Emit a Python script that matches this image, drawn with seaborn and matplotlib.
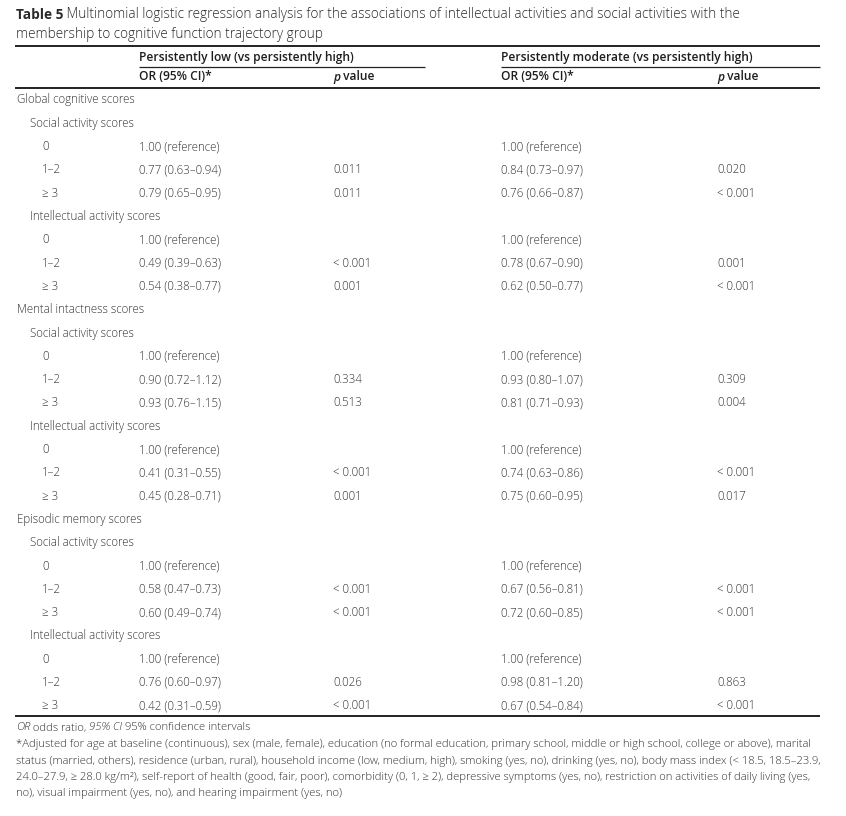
import numpy as np
import pandas as pd
import matplotlib
matplotlib.use("Agg")
import matplotlib.pyplot as plt
import seaborn as sns

# ================================
# DATA
# ================================

title_bold = "Table 5"
title_rest = [" Multinomial logistic regression analysis for the associations of intellectual activities and social activities with the",
              "membership to cognitive function trajectory group"]

group_labels = ["Persistently low (vs persistently high)",
                "Persistently moderate (vs persistently high)"]

sections = ["Global cognitive scores", "Mental intactness scores", "Episodic memory scores"]
subgroups = ["Social activity scores", "Intellectual activity scores"]
levels = ["0", "1\u20132", "\u2265 3"]

# odds ratios and 95% CI for the 1-2 and >=3 levels (0 is reference), in section/subgroup order
low_or = [0.77, 0.79, 0.49, 0.54, 0.90, 0.93, 0.41, 0.45, 0.58, 0.60, 0.76, 0.42]
low_lo = [0.63, 0.65, 0.39, 0.38, 0.72, 0.76, 0.31, 0.28, 0.47, 0.49, 0.60, 0.31]
low_hi = [0.94, 0.95, 0.63, 0.77, 1.12, 1.15, 0.55, 0.71, 0.73, 0.74, 0.97, 0.59]
low_p = ["0.011", "0.011", "< 0.001", "0.001", "0.334", "0.513",
         "< 0.001", "0.001", "< 0.001", "< 0.001", "0.026", "< 0.001"]

mod_or = [0.84, 0.76, 0.78, 0.62, 0.93, 0.81, 0.74, 0.75, 0.67, 0.72, 0.98, 0.67]
mod_lo = [0.73, 0.66, 0.67, 0.50, 0.80, 0.71, 0.63, 0.60, 0.56, 0.60, 0.81, 0.54]
mod_hi = [0.97, 0.87, 0.90, 0.77, 1.07, 0.93, 0.86, 0.95, 0.81, 0.85, 1.20, 0.84]
mod_p = ["0.020", "< 0.001", "0.001", "< 0.001", "0.309", "0.004",
         "< 0.001", "0.017", "< 0.001", "< 0.001", "0.863", "< 0.001"]

footnotes = [
    "*Adjusted for age at baseline (continuous), sex (male, female), education (no formal education, primary school, middle or high school, college or above), marital",
    "status (married, others), residence (urban, rural), household income (low, medium, high), smoking (yes, no), drinking (yes, no), body mass index (< 18.5, 18.5\u201323.9,",
    "24.0\u201327.9, \u2265 28.0 kg/m\u00b2), self-report of health (good, fair, poor), comorbidity (0, 1, \u2265 2), depressive symptoms (yes, no), restriction on activities of daily living (yes,",
    "no), visual impairment (yes, no), and hearing impairment (yes, no)",
]

# ================================
# BUILD TABLE ROWS
# ================================

rows = []
k = 0
for sec in sections:
    rows.append({"label": sec, "indent": 0, "low_or": "", "low_p": "", "mod_or": "", "mod_p": ""})
    for sub in subgroups:
        rows.append({"label": sub, "indent": 1, "low_or": "", "low_p": "", "mod_or": "", "mod_p": ""})
        rows.append({"label": levels[0], "indent": 2, "low_or": "1.00 (reference)", "low_p": "",
                     "mod_or": "1.00 (reference)", "mod_p": ""})
        for lev in levels[1:]:
            rows.append({"label": lev, "indent": 2,
                         "low_or": f"{low_or[k]:.2f} ({low_lo[k]:.2f}\u2013{low_hi[k]:.2f})",
                         "low_p": low_p[k],
                         "mod_or": f"{mod_or[k]:.2f} ({mod_lo[k]:.2f}\u2013{mod_hi[k]:.2f})",
                         "mod_p": mod_p[k]})
            k += 1
table = pd.DataFrame(rows)

# ================================
# DRAW
# ================================

sns.set_theme(style="white")
plt.rcParams["font.family"] = ["Open Sans", "DejaVu Sans"]

W, H = 846, 816
fig = plt.figure(figsize=(W / 100, H / 100), dpi=100)
ax = fig.add_axes([0, 0, 1, 1])
ax.set_xlim(0, W)
ax.set_ylim(H, 0)
ax.axis("off")

txt_col = "#333333"
head_col = "#1e1e1e"
body_fs = 8.3
head_fs = 8.65


def runs(x, y, parts, fs, color=txt_col):
    # draw a line made of differently styled pieces next to each other
    prev = None
    for text, style, weight in parts:
        if prev is None:
            prev = ax.text(x, y, text, fontsize=fs, fontstyle=style, fontweight=weight,
                           color=color, va="center", ha="left")
        else:
            prev = ax.annotate(text, xy=(1, 0), xycoords=prev, fontsize=fs,
                               fontstyle=style, fontweight=weight, color=color,
                               va="bottom", ha="left")
    return prev


# title
runs(16, 15, [(title_bold, "normal", "bold"), (title_rest[0], "normal", "light")], 9.85, "#2a2a2a")
ax.text(16, 34, title_rest[1], fontsize=9.85, fontweight="light", color="#2a2a2a", va="center")

# rules
x0, x1 = 15, 820
ax.plot([x0, x1], [46, 46], color="#222222", lw=1.4, solid_capstyle="butt")
ax.plot([139, 425], [67, 67], color="#222222", lw=0.9, solid_capstyle="butt")
ax.plot([501, x1], [67, 67], color="#222222", lw=0.9, solid_capstyle="butt")
ax.plot([x0, x1], [88, 88], color="#222222", lw=1.4, solid_capstyle="butt")
ax.plot([x0, x1], [716, 716], color="#222222", lw=1.4, solid_capstyle="butt")

# column headers
col_or = [139, 501]
col_p = [333, 717]
for g in range(2):
    ax.text(col_or[g], 57, group_labels[g], fontsize=head_fs, fontweight="semibold",
            color=head_col, va="center")
    ax.text(col_or[g], 77, "OR (95% CI)*", fontsize=head_fs, fontweight="semibold",
            color=head_col, va="center")
    runs(col_p[g], 77, [("p", "italic", "semibold"), (" value", "normal", "semibold")],
         head_fs, head_col)

# body
indent_x = [17, 30, 42]
row_y = 100 + np.arange(len(table)) * 23.3
for y, (_, r) in zip(row_y, table.iterrows()):
    ax.text(indent_x[r["indent"]], y, r["label"], fontsize=body_fs, fontweight="light",
            color=txt_col, va="center")
    ax.text(col_or[0], y, r["low_or"], fontsize=body_fs, fontweight="light", color=txt_col, va="center")
    ax.text(col_p[0], y, r["low_p"], fontsize=body_fs, fontweight="light", color=txt_col, va="center")
    ax.text(col_or[1], y, r["mod_or"], fontsize=body_fs, fontweight="light", color=txt_col, va="center")
    ax.text(col_p[1], y, r["mod_p"], fontsize=body_fs, fontweight="light", color=txt_col, va="center")

# footnotes
foot_fs = 8.1
runs(16, 728, [("OR", "italic", "light"), (" odds ratio, ", "normal", "light"),
               ("95% CI", "italic", "light"), (" 95% confidence intervals", "normal", "light")],
     foot_fs)
for i, line in enumerate(footnotes):
    ax.text(16, 745 + i * 16.1, line, fontsize=foot_fs, fontweight="light", color=txt_col, va="center")

fig.savefig("out.png", dpi=100)
